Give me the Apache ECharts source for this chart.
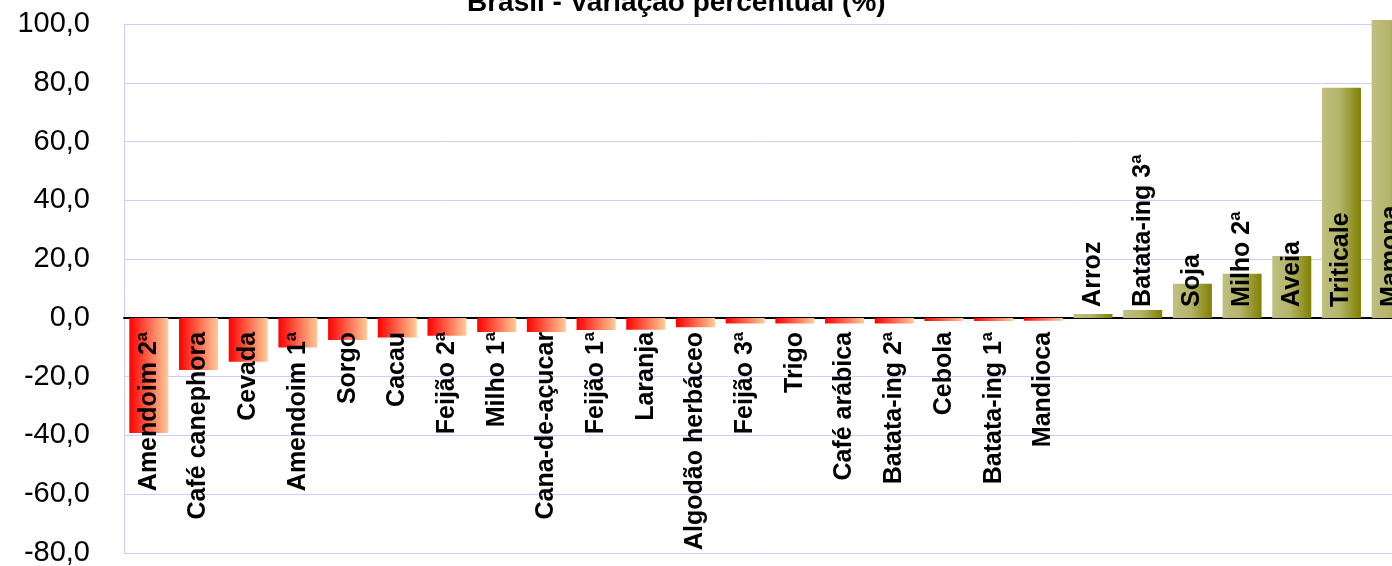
<!DOCTYPE html>
<html>
<head>
<meta charset="utf-8">
<script src="https://cdn.jsdelivr.net/npm/echarts@6/dist/echarts.min.js"></script>
<style>
  html, body { margin: 0; padding: 0; background: #fff; }
  #chart { width: 1392px; height: 566px; }
</style>
</head>
<body>
<div id="chart"></div>
<script>
const titleText = 'Brasil - Variação percentual (%)'

const categories = [
  'Amendoim 2ª', 'Café canephora', 'Cevada', 'Amendoim 1ª', 'Sorgo', 'Cacau',
  'Feijão 2ª', 'Milho 1ª', 'Cana-de-açucar', 'Feijão 1ª', 'Laranja',
  'Algodão herbáceo', 'Feijão 3ª', 'Trigo', 'Café arábica', 'Batata-ing 2ª',
  'Cebola', 'Batata-ing 1ª', 'Mandioca', 'Arroz', 'Batata-ing 3ª', 'Soja',
  'Milho 2ª', 'Aveia', 'Triticale', 'Mamona'
]

const variation = [
  -39.2, -17.7, -14.9, -10.1, -7.5, -6.7,
  -6.1, -4.8, -4.8, -4.1, -4.0,
  -3.2, -1.9, -1.9, -1.9, -1.9,
  -1.1, -1.1, -1.0, 1.3, 2.7, 11.6,
  15.0, 21.1, 78.3, 101.4
]

const yTicks = { min: -80, max: 100, interval: 20 }

const fontName = '"Liberation Sans", Arial, sans-serif'

const negColor = new echarts.graphic.LinearGradient(0, 0, 1, 0, [
  { offset: 0, color: '#ff0000' },
  { offset: 1, color: '#ffcc99' }
])
const posColor = new echarts.graphic.LinearGradient(0, 0, 1, 0, [
  { offset: 0, color: '#c0c080' },
  { offset: 0.45, color: '#b4b46c' },
  { offset: 1, color: '#808000' }
])

const barData = variation.map(function (v) {
  const neg = v < 0
  return {
    value: v,
    itemStyle: { color: neg ? negColor : posColor },
    label: {
      position: neg ? 'insideTop' : 'insideBottom',
      align: neg ? 'right' : 'left',
      distance: neg ? 14 : 11
    }
  }
})

const myChart = echarts.init(document.getElementById('chart'))

// plot area runs past the right edge of the picture, like the original
const option = {
  animation: false,
  backgroundColor: '#ffffff',
  graphic: [
    {
      type: 'text',
      x: 467,
      y: 3,
      style: {
        text: titleText,
        fontFamily: fontName,
        fontSize: 28,
        fontWeight: 'bold',
        fill: '#000',
        align: 'left',
        verticalAlign: 'middle'
      }
    }
  ],
  grid: { left: 124, top: 24, height: 529, width: 1292, outerBoundsMode: 'none' },
  xAxis: {
    type: 'category',
    data: categories,
    axisLine: { onZero: true, lineStyle: { color: '#000', width: 2 } },
    axisTick: { show: false },
    axisLabel: { show: false },
    splitLine: { show: false }
  },
  yAxis: {
    type: 'value',
    min: yTicks.min,
    max: yTicks.max,
    interval: yTicks.interval,
    axisLine: { show: true, lineStyle: { color: '#ccccff', width: 1 } },
    axisTick: { show: false },
    splitLine: { lineStyle: { color: '#ccccff', width: 1 } },
    axisLabel: {
      margin: 34,
      padding: [4, 0, 0, 0],
      fontFamily: fontName,
      fontSize: 29,
      color: '#000',
      formatter: function (v) { return v.toFixed(1).replace('.', ',') }
    }
  },
  series: [
    {
      type: 'bar',
      data: barData,
      barWidth: 39,
      clip: false,
      label: {
        show: true,
        rotate: 90,
        verticalAlign: 'middle',
        fontFamily: fontName,
        fontSize: 25,
        fontWeight: 'bold',
        color: '#000',
        formatter: function (p) { return categories[p.dataIndex] }
      }
    }
  ]
}

myChart.setOption(option)
</script>
</body>
</html>
